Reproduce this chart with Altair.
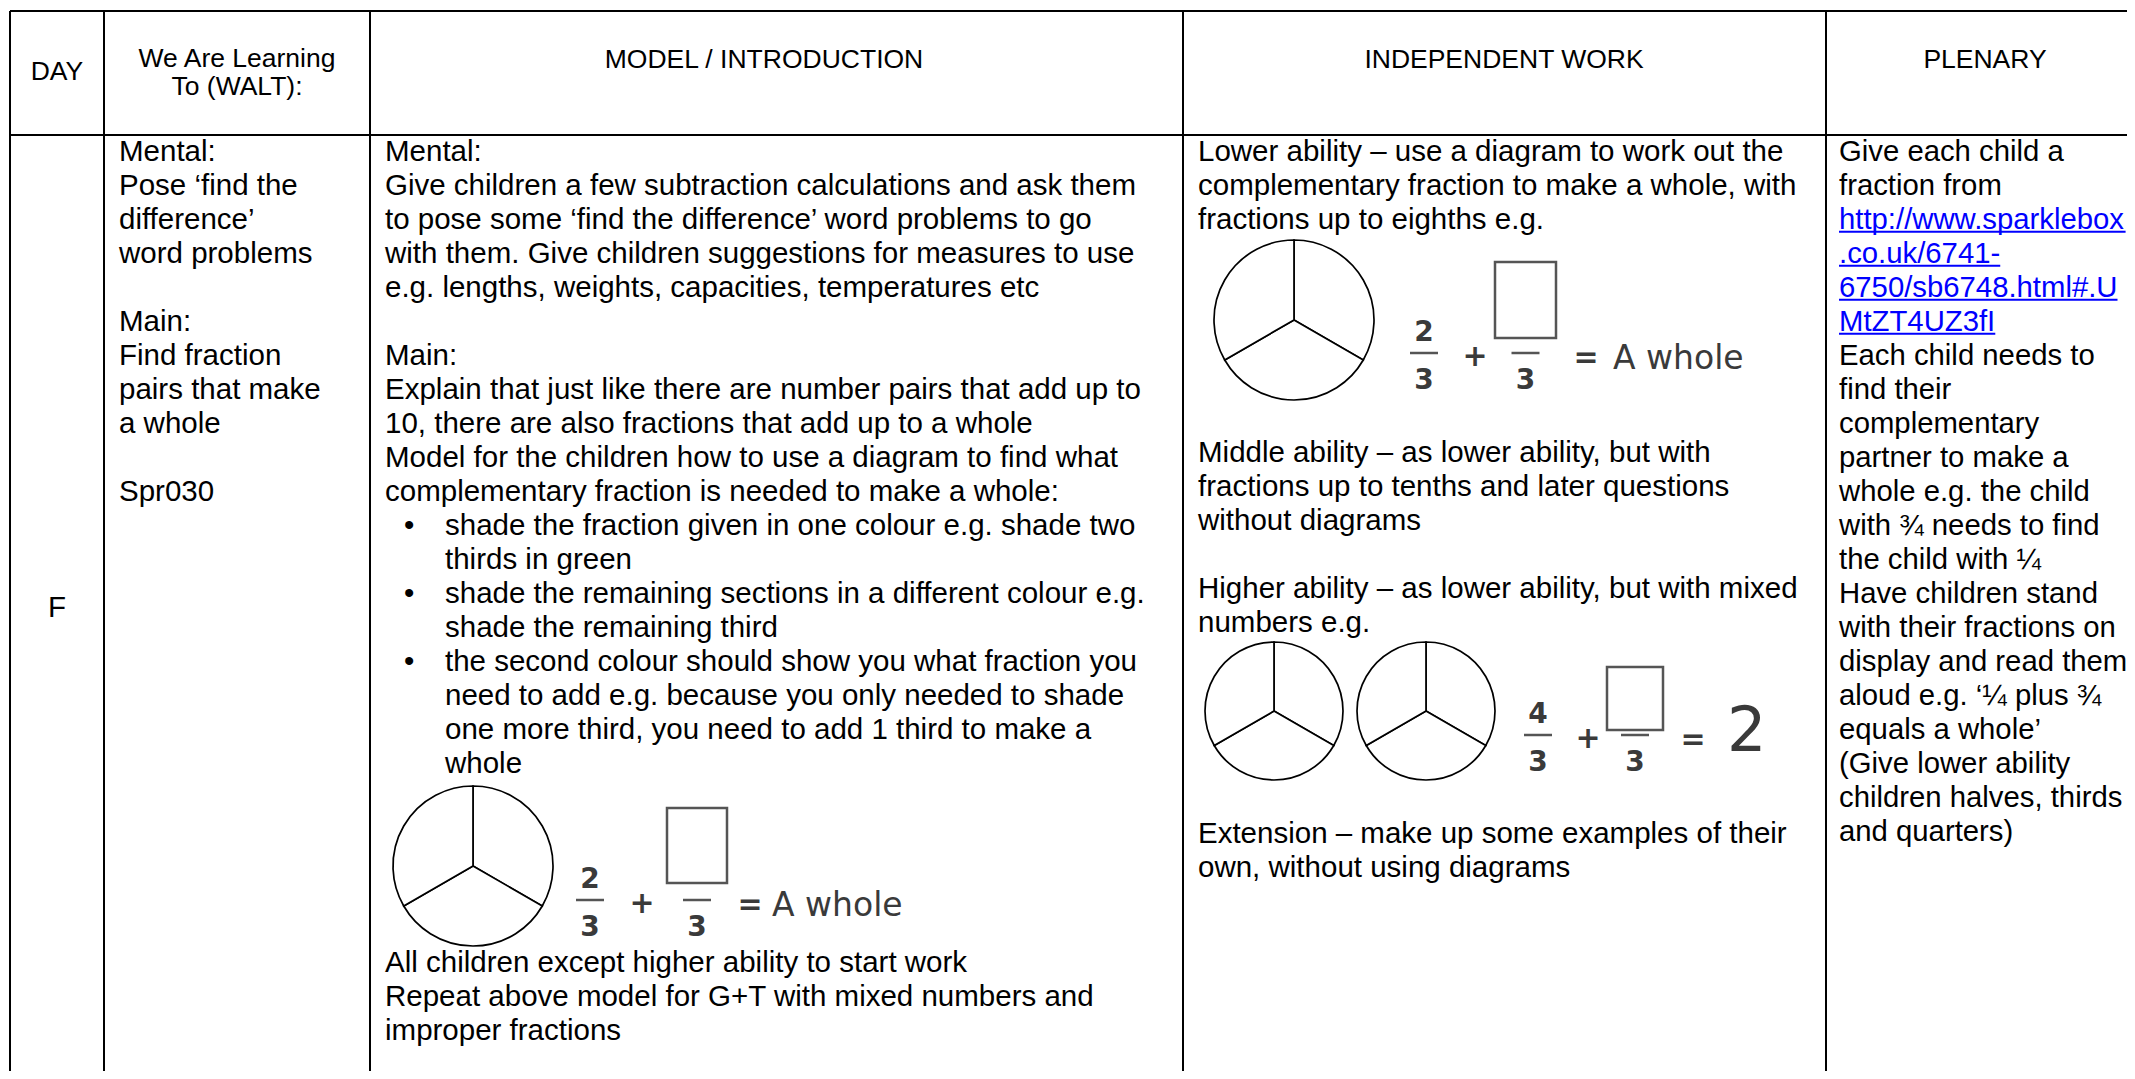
import math
import altair as alt
import pandas as pd

# ---------------- page / table geometry (page pixels) ----------------
W, H = 2119, 1063           # plot area; page margin is 8px
ORIGIN = 8
COL_EDGES = [10, 104, 370, 1183, 1826]
TABLE_RIGHT = 2135
TABLE_TOP = 11
HEADER_BOTTOM = 135
TABLE_BOTTOM = 1079

FONT = "Liberation Sans"
EQ_FONT = "DejaVu Sans"
BODY_SIZE = 29.5
PLEN_SIZE = 29.3
HEAD_SIZE = 26.5
LINE = 34
FIRST = 152
PAD = 15
PLEN_PAD = 13

# ---------------- text content ----------------
HEADERS = ["DAY", "We Are Learning\nTo (WALT):", "MODEL / INTRODUCTION",
           "INDEPENDENT WORK", "PLENARY"]
HEADER_X = [57, 237, 764, 1504, 1985]
HEADER_Y = [72, 59, 60, 60, 60]

DAY_LABEL = "F"
DAY_Y = 608

WALT = ["Mental:", "Pose \u2018find the", "difference\u2019", "word problems", "",
        "Main:", "Find fraction", "pairs that make", "a whole", "", "Spr030"]

MODEL_A = ["Mental:",
           "Give children a few subtraction calculations and ask them",
           "to pose some \u2018find the difference\u2019 word problems to go",
           "with them. Give children suggestions for measures to use",
           "e.g. lengths, weights, capacities, temperatures etc",
           "",
           "Main:",
           "Explain that just like there are number pairs that add up to",
           "10, there are also fractions that add up to a whole",
           "Model for the children how to use a diagram to find what",
           "complementary fraction is needed to make a whole:"]
MODEL_BULLET_MARKS = ["\u2022", "", "\u2022", "", "\u2022", "", "", ""]
MODEL_BULLET_TEXT = ["shade the fraction given in one colour e.g. shade two",
                     "thirds in green",
                     "shade the remaining sections in a different colour e.g.",
                     "shade the remaining third",
                     "the second colour should show you what fraction you",
                     "need to add e.g. because you only needed to shade",
                     "one more third, you need to add 1 third to make a",
                     "whole"]
MODEL_C = ["All children except higher ability to start work",
           "Repeat above model for G+T with mixed numbers and",
           "improper fractions"]
MODEL_C_Y = 963
BULLET_X, BULLET_TEXT_X = 404, 445

INDEP_A = ["Lower ability \u2013 use a diagram to work out the",
           "complementary fraction to make a whole, with",
           "fractions up to eighths e.g."]
INDEP_B = ["Middle ability \u2013 as lower ability, but with",
           "fractions up to tenths and later questions",
           "without diagrams",
           "",
           "Higher ability \u2013 as lower ability, but with mixed",
           "numbers e.g."]
INDEP_B_Y = 453
INDEP_C = ["Extension \u2013 make up some examples of their",
           "own, without using diagrams"]
INDEP_C_Y = 834

PLENARY = ["Give each child a", "fraction from",
           "http://www.sparklebox", ".co.uk/6741-", "6750/sb6748.html#.U", "MtZT4UZ3fI",
           "Each child needs to", "find their", "complementary", "partner to make a",
           "whole e.g. the child", "with \u00be needs to find", "the child with \u00bc",
           "Have children stand", "with their fractions on", "display and read them",
           "aloud e.g. \u2018\u00bc plus \u00be", "equals a whole\u2019",
           "(Give lower ability", "children halves, thirds", "and quarters)"]
LINK_ROWS = [2, 3, 4, 5]
LINK_COLOR = "#0000FF"

# Arial / Liberation Sans advance widths (per 1000 em) for underline lengths
ARIAL_W = {"h": 556, "t": 278, "p": 556, ":": 278, "/": 278, "w": 722, ".": 278,
           "s": 500, "a": 556, "r": 333, "k": 500, "l": 222, "e": 556, "b": 556,
           "o": 556, "x": 500, "c": 500, "u": 556, "-": 333, "m": 833, "#": 556,
           "U": 722, "M": 833, "Z": 611, "T": 611, "f": 278, "I": 278}

# ---------------- diagrams ----------------
PIE_CX = [473, 1294, 1274, 1426]
PIE_CY = [866, 320, 711, 711]
PIE_R = [80, 80, 69, 69]
PIE_PARTS = 3

EQ_NUM = ["2", "2", "4"]
EQ_DEN = ["3", "3", "3"]
EQ_RESULT = ["A whole", "A whole", "2"]
EQ_NUM_X = [590, 1424, 1538]
EQ_BAR_Y = [900, 353, 735]
EQ_PLUS_X = [642, 1475, 1588]
EQ_BOX_X = [(667, 727), (1495, 1556), (1607, 1663)]
EQ_BOX_Y = [(808, 883), (262, 338), (667, 730)]
EQ_EQ_X = [750, 1586, 1693]
EQ_RES_X = [772, 1613, 1747]
EQ_RES_SIZE = [33, 33, 62]
EQ_COLOR = "#3a3a3a"

# ---------------- build tables ----------------
sx = alt.Scale(domain=[ORIGIN, ORIGIN + W], nice=False, zero=False)
sy = alt.Scale(domain=[ORIGIN, ORIGIN + H], nice=False, zero=False, reverse=True)

border_rows = [dict(x=COL_EDGES[0], x2=TABLE_RIGHT, y=TABLE_TOP, y2=TABLE_TOP),
               dict(x=COL_EDGES[0], x2=TABLE_RIGHT, y=HEADER_BOTTOM, y2=HEADER_BOTTOM)]
for cx in COL_EDGES:
    border_rows.append(dict(x=cx, x2=cx, y=TABLE_TOP, y2=TABLE_BOTTOM))
borders = pd.DataFrame(border_rows)

body_rows = []


def add_block(lines, x, y0, color="black"):
    for i, t in enumerate(lines):
        if t:
            body_rows.append(dict(x=x, y=y0 + i * LINE, t=t, c=color))


add_block(WALT, COL_EDGES[1] + PAD, FIRST)
add_block(MODEL_A, COL_EDGES[2] + PAD, FIRST)
add_block(MODEL_BULLET_MARKS, BULLET_X, FIRST + len(MODEL_A) * LINE)
add_block(MODEL_BULLET_TEXT, BULLET_TEXT_X, FIRST + len(MODEL_A) * LINE)
add_block(MODEL_C, COL_EDGES[2] + PAD, MODEL_C_Y)
add_block(INDEP_A, COL_EDGES[3] + PAD, FIRST)
add_block(INDEP_B, COL_EDGES[3] + PAD, INDEP_B_Y)
add_block(INDEP_C, COL_EDGES[3] + PAD, INDEP_C_Y)
body = pd.DataFrame(body_rows)

plen_rows, underline_rows = [], []
for i, t in enumerate(PLENARY):
    x = COL_EDGES[4] + PLEN_PAD
    y = FIRST + i * LINE
    if i in LINK_ROWS:
        plen_rows.append(dict(x=x, y=y, t=t, c=LINK_COLOR))
        w = sum(ARIAL_W.get(ch, 556) for ch in t) / 1000 * PLEN_SIZE
        underline_rows.append(dict(x=x, x2=x + w, y=y + 0.3 * PLEN_SIZE + 3))
    else:
        plen_rows.append(dict(x=x, y=y, t=t, c="black"))
plen = pd.DataFrame(plen_rows)
underlines = pd.DataFrame(underline_rows)

heads_single = pd.DataFrame(dict(x=[HEADER_X[i] for i in (0, 2, 3, 4)],
                                 y=[HEADER_Y[i] for i in (0, 2, 3, 4)],
                                 t=[HEADERS[i] for i in (0, 2, 3, 4)]))
heads_multi = pd.DataFrame(dict(x=[HEADER_X[1]], y=[HEADER_Y[1]], t=[HEADERS[1]]))
day = pd.DataFrame(dict(x=[(COL_EDGES[0] + COL_EDGES[1]) / 2], y=[DAY_Y], t=[DAY_LABEL]))

arc_rows = []
for cx, cy, r in zip(PIE_CX, PIE_CY, PIE_R):
    for k in range(PIE_PARTS):
        arc_rows.append(dict(cx=cx, cy=cy, r=r,
                             t0=2 * math.pi * k / PIE_PARTS,
                             t1=2 * math.pi * (k + 1) / PIE_PARTS))
arcs = pd.DataFrame(arc_rows)

eq_c_rows, eq_l_rows, bar_rows, box_rows = [], [], [], []
for i in range(len(EQ_NUM)):
    bar = EQ_BAR_Y[i]
    bx0, bx1 = EQ_BOX_X[i]
    by0, by1 = EQ_BOX_Y[i]
    bxc = (bx0 + bx1) / 2
    eq_c_rows += [dict(x=EQ_NUM_X[i], y=bar - 20, t=EQ_NUM[i], s=28),
                  dict(x=EQ_NUM_X[i], y=bar + 28, t=EQ_DEN[i], s=28),
                  dict(x=bxc, y=bar + 28, t=EQ_DEN[i], s=28),
                  dict(x=EQ_PLUS_X[i], y=bar + 4, t="+", s=30),
                  dict(x=EQ_EQ_X[i], y=bar + 5, t="=", s=30)]
    if EQ_RESULT[i] == "A whole":
        eq_l_rows.append(dict(x=EQ_RES_X[i], y=bar + 6, t=EQ_RESULT[i], s=EQ_RES_SIZE[i]))
    else:
        eq_l_rows.append(dict(x=EQ_RES_X[i] - 20, y=bar - 3, t=EQ_RESULT[i], s=EQ_RES_SIZE[i]))
    bar_rows += [dict(x=EQ_NUM_X[i] - 14, x2=EQ_NUM_X[i] + 14, y=bar),
                 dict(x=bxc - 14, x2=bxc + 14, y=bar)]
    box_rows.append(dict(x=bx0, x2=bx1, y=by0, y2=by1))
eq_c = pd.DataFrame(eq_c_rows)
eq_l = pd.DataFrame(eq_l_rows)
bars = pd.DataFrame(bar_rows)
boxes = pd.DataFrame(box_rows)

X = lambda f: alt.X(f, type="quantitative", scale=sx, axis=None)
Y = lambda f: alt.Y(f, type="quantitative", scale=sy, axis=None)

border_layer = alt.Chart(borders).mark_rule(color="black", strokeWidth=2).encode(
    x=X("x"), x2="x2", y=Y("y"), y2="y2")

head_layer = alt.Chart(heads_single).mark_text(
    font=FONT, fontSize=HEAD_SIZE, align="center", baseline="middle", color="black").encode(
    x=X("x"), y=Y("y"), text="t:N")

head_multi_layer = alt.Chart(heads_multi).mark_text(
    font=FONT, fontSize=HEAD_SIZE, align="center", baseline="middle",
    lineBreak="\n", lineHeight=28, color="black").encode(
    x=X("x"), y=Y("y"), text="t:N")

day_layer = alt.Chart(day).mark_text(
    font=FONT, fontSize=BODY_SIZE, align="center", baseline="middle", color="black").encode(
    x=X("x"), y=Y("y"), text="t:N")

body_layer = alt.Chart(body).mark_text(
    font=FONT, fontSize=BODY_SIZE, align="left", baseline="middle").encode(
    x=X("x"), y=Y("y"), text="t:N", color=alt.Color("c:N", scale=None))

plen_layer = alt.Chart(plen).mark_text(
    font=FONT, fontSize=PLEN_SIZE, align="left", baseline="middle").encode(
    x=X("x"), y=Y("y"), text="t:N", color=alt.Color("c:N", scale=None))

underline_layer = alt.Chart(underlines).mark_rule(color=LINK_COLOR, strokeWidth=2).encode(
    x=X("x"), x2="x2", y=Y("y"))

pie_layer = alt.Chart(arcs).mark_arc(fill="white", stroke="black", strokeWidth=1.7).encode(
    x=X("cx"), y=Y("cy"),
    theta=alt.Theta("t0:Q", scale=None), theta2="t1",
    radius=alt.Radius("r:Q", scale=None))

box_layer = alt.Chart(boxes).mark_rect(fill="white", stroke="#555555", strokeWidth=2.5).encode(
    x=X("x"), x2="x2", y=Y("y"), y2="y2")

bar_layer = alt.Chart(bars).mark_rule(color="#555555", strokeWidth=2.5).encode(
    x=X("x"), x2="x2", y=Y("y"))

eq_c_layer = alt.Chart(eq_c).mark_text(
    font=EQ_FONT, fontWeight="bold", align="center", baseline="middle", color=EQ_COLOR).encode(
    x=X("x"), y=Y("y"), text="t:N", size=alt.Size("s:Q", scale=None))

eq_l_layer = alt.Chart(eq_l).mark_text(
    font=EQ_FONT, align="left", baseline="middle", color=EQ_COLOR).encode(
    x=X("x"), y=Y("y"), text="t:N", size=alt.Size("s:Q", scale=None))

chart = alt.layer(
    border_layer, head_layer, head_multi_layer, day_layer, body_layer, plen_layer,
    underline_layer, pie_layer, box_layer, bar_layer, eq_c_layer, eq_l_layer
).properties(
    width=W, height=H, padding=0,
    autosize=alt.AutoSizeParams(type="none"),
    background="white"
).configure_view(strokeWidth=0)

chart.save("out.html", embed_options={"renderer": "svg", "actions": False})
